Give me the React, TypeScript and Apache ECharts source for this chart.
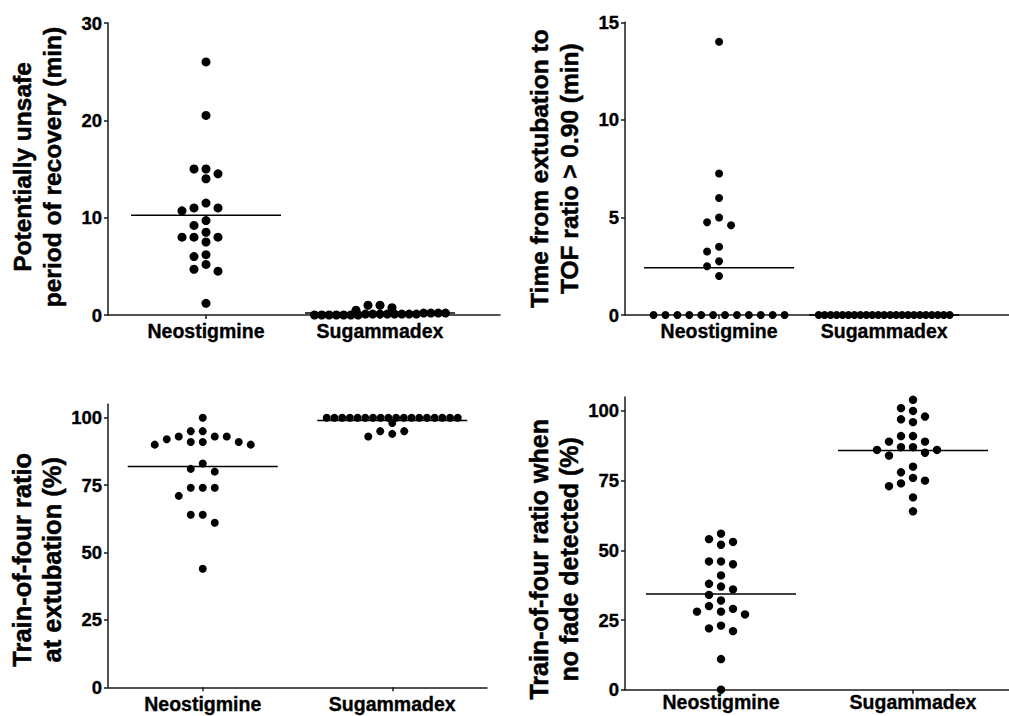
import React, { useEffect, useRef } from "react";
import * as echarts from "echarts";

// ---------- data ----------
const categories = ["Neostigmine", "Sugammadex"];

const unsafeNeostigmine = [26, 20.5, 15, 15, 14.5, 14, 11.5, 11, 11, 10.7, 9.7, 9.2, 8.5, 8, 8, 8, 7.5, 6.2, 6.0, 5.2, 4.7, 4.5, 1.2];
const unsafeSugammadex = [1.0, 1.0, 0.75, 0.5, 0.1, 0, 0.2, 0.1, 0, 0.1, 0.2, 0, 0.1, 0, 0.1, 0.2, 0, 0.1, 0, 0.1, 0, 0.2, 0.1];

const timeNeostigmine = [14, 7.25, 6, 5, 4.75, 4.6, 3.5, 3.25, 2.75, 2.5, 2, 0, 0, 0, 0, 0, 0, 0, 0, 0, 0, 0, 0];
const timeSugammadex = [0, 0, 0, 0, 0, 0, 0, 0, 0, 0, 0, 0, 0, 0, 0, 0, 0, 0, 0, 0, 0, 0, 0];

const tofExtubationNeostigmine = [100, 95, 95, 93, 93, 93, 92, 91, 91, 91, 90, 90, 83, 81, 80, 74, 74, 74, 71, 64, 64, 61, 44];
const tofExtubationSugammadex = [100, 100, 100, 100, 100, 100, 100, 100, 100, 100, 100, 100, 100, 100, 100, 100, 100, 100, 98, 95, 95, 94, 93];

const tofNoFadeNeostigmine = [56, 54, 53, 52, 46, 46, 45, 41, 38, 37, 36, 34, 32, 30, 29, 28, 28, 27, 23, 22, 21, 11, 0];
const tofNoFadeSugammadex = [104, 101, 100, 98, 97, 96, 91, 91, 89, 89, 87, 87, 86, 86, 85, 84, 80, 78, 76, 75, 74, 73, 69, 64];

const unsafeTicks = [0, 10, 20, 30];
const timeTicks = [0, 5, 10, 15];
const tofTicks = [0, 25, 50, 75, 100];

const titleUnsafe = "Potentially unsafe\nperiod of recovery (min)";
const titleTime = "Time from extubation to\nTOF ratio > 0.90 (min)";
const titleTofExt = "Train-of-four ratio\nat extubation (%)";
const titleTofFade = "Train-of-four ratio when\nno fade detected (%)";

// ---------- layout ----------
const FONT = "'Liberation Sans', Arial, Helvetica, sans-serif";
const AXIS_COLOR = "#1a1a1a";
const SLOT = 12;
const MIN_DIST = 9;
const CLUSTER_PX = 4;
const MAX_PER_ROW = 11;
const ROW_WIDTH = 131;
const MEAN_HALF = 75;

type Panel = {
  groups: number[][];
  ticks: number[];
  yMax: number;
  title: string;
  left: number;
  top: number;
  width: number;
  height: number;
  xMin: number;
  xMax: number;
  r: number;
  labelMargin: number;
  titleShift: number;
  titleSize: number;
};

const panels: Panel[] = [
  { groups: [unsafeNeostigmine, unsafeSugammadex], ticks: unsafeTicks, yMax: 30, title: titleUnsafe,
    left: 108, top: 23, width: 392, height: 292, xMin: -98 / 174, xMax: 294 / 174, r: 4.5, labelMargin: 6,
    titleShift: -2, titleSize: 24.5 },
  { groups: [timeNeostigmine, timeSugammadex], ticks: timeTicks, yMax: 15, title: titleTime,
    left: 625, top: 22.3, width: 400, height: 292.7, xMin: -98 / 172, xMax: 302 / 172, r: 4, labelMargin: 6,
    titleShift: 0, titleSize: 24.5 },
  { groups: [tofExtubationNeostigmine, tofExtubationSugammadex], ticks: tofTicks, yMax: 105, title: titleTofExt,
    left: 108, top: 404.2, width: 379, height: 283.1, xMin: -0.5, xMax: 1.5, r: 4, labelMargin: 7,
    titleShift: 14, titleSize: 25.5 },
  { groups: [tofNoFadeNeostigmine, tofNoFadeSugammadex], ticks: tofTicks, yMax: 105, title: titleTofFade,
    left: 625, top: 397, width: 392, height: 292.7, xMin: -0.5, xMax: 1.5, r: 4.2, labelMargin: 2,
    titleShift: 16, titleSize: 25 },
];

function mean(a: number[]) {
  return a.reduce((s, v) => s + v, 0) / a.length;
}

// beeswarm offsets (pixels) computed from values
function swarm(values: number[], pxPerUnit: number): number[] {
  const n = values.length;
  const dx = new Array(n).fill(0);
  const idx = values.map((_, i) => i).sort((a, b) => values[a] - values[b]);
  const dense = new Array(n).fill(false);
  let i = 0;
  while (i < n) {
    let j = i;
    while (j + 1 < n && (values[idx[j + 1]] - values[idx[i]]) * pxPerUnit < CLUSTER_PX) j++;
    const count = j - i + 1;
    if (count > MAX_PER_ROW) {
      const step = Math.min(SLOT, ROW_WIDTH / (count - 1));
      for (let k = 0; k < count; k++) {
        dx[idx[i + k]] = (k - (count - 1) / 2) * step;
        dense[idx[i + k]] = true;
      }
    }
    i = j + 1;
  }
  const placed: { x: number; y: number }[] = [];
  const order = idx.filter((k) => !dense[k]).reverse();
  for (const k of order) {
    const y = values[k] * pxPerUnit;
    for (let s = 0; s < 60; s++) {
      const slot = s === 0 ? 0 : s % 2 === 1 ? -Math.ceil(s / 2) : Math.ceil(s / 2);
      const x = slot * SLOT;
      if (placed.every((p) => Math.hypot(p.x - x, p.y - y) >= MIN_DIST)) {
        dx[k] = x;
        placed.push({ x, y });
        break;
      }
    }
  }
  return dx;
}

function buildOption() {
  const grid: any[] = [];
  const xAxis: any[] = [];
  const yAxis: any[] = [];
  const series: any[] = [];
  const textStyle = {
    fontFamily: FONT,
    fontWeight: "bold",
    color: "#000",
    textBorderColor: "#000",
    textBorderWidth: 0.35,
  };

  panels.forEach((p, gi) => {
    grid.push({ left: p.left, top: p.top, width: p.width, height: p.height });
    xAxis.push({
      type: "value",
      gridIndex: gi,
      min: p.xMin,
      max: p.xMax,
      axisLine: { show: true, onZero: false, lineStyle: { color: AXIS_COLOR, width: 1.5 } },
      axisTick: { show: true, length: 4, customValues: [0, 1], lineStyle: { color: AXIS_COLOR, width: 1.5 } },
      axisLabel: {
        customValues: [0, 1],
        formatter: (v: number) => categories[Math.round(v)] ?? "",
        fontSize: 19.5,
        margin: p.labelMargin,
        ...textStyle,
      },
      splitLine: { show: false },
    });
    const shift = p.titleShift;
    yAxis.push({
      type: "value",
      gridIndex: gi,
      min: 0,
      max: p.yMax,
      interval: p.ticks[1] - p.ticks[0],
      axisLine: { show: true, onZero: false, lineStyle: { color: AXIS_COLOR, width: 1.5 } },
      axisTick: { show: true, length: 4, customValues: p.ticks, lineStyle: { color: AXIS_COLOR, width: 1.5 } },
      axisLabel: { customValues: p.ticks, fontSize: 18.5, margin: 6, ...textStyle },
      splitLine: { show: false },
      name: p.title,
      nameLocation: "middle",
      nameRotate: 90,
      nameGap: 41,
      nameTextStyle: {
        fontSize: p.titleSize,
        lineHeight: 30,
        padding: shift >= 0 ? [0, 2 * shift, 0, 0] : [0, 0, 0, -2 * shift],
        ...textStyle,
        textBorderWidth: 0.5,
      },
    });

    // mean lines
    series.push({
      type: "custom",
      xAxisIndex: gi,
      yAxisIndex: gi,
      silent: true,
      z: 2,
      data: p.groups.map((g, ci) => [ci, mean(g)]),
      renderItem: (_params: any, api: any) => {
        const c = api.coord([api.value(0), api.value(1)]);
        return {
          type: "line",
          shape: { x1: c[0] - MEAN_HALF, y1: c[1], x2: c[0] + MEAN_HALF, y2: c[1] },
          style: { stroke: "#000", lineWidth: 1.5 },
        };
      },
    });

    // dots
    const pxPerUnit = p.height / p.yMax;
    const dots: number[][] = [];
    p.groups.forEach((g, ci) => {
      const dx = swarm(g, pxPerUnit);
      g.forEach((v, k) => dots.push([ci, v, dx[k]]));
    });
    const r = p.r;
    series.push({
      type: "custom",
      xAxisIndex: gi,
      yAxisIndex: gi,
      silent: true,
      z: 3,
      data: dots,
      renderItem: (_params: any, api: any) => {
        const c = api.coord([api.value(0), api.value(1)]);
        return {
          type: "circle",
          shape: { cx: c[0] + (api.value(2) as number), cy: c[1], r },
          style: { fill: "#000" },
        };
      },
    });
  });

  return { animation: false, backgroundColor: "#fff", grid, xAxis, yAxis, series };
}

export default function App() {
  const ref = useRef<HTMLDivElement>(null);
  useEffect(() => {
    if (!ref.current) return;
    const chart = echarts.init(ref.current, undefined, { renderer: "svg" });
    chart.setOption(buildOption() as any);
    return () => chart.dispose();
  }, []);
  return (
    <div
      ref={ref}
      style={{ position: "fixed", left: 0, top: 0, width: 1009, height: 716, background: "#fff" }}
    />
  );
}
